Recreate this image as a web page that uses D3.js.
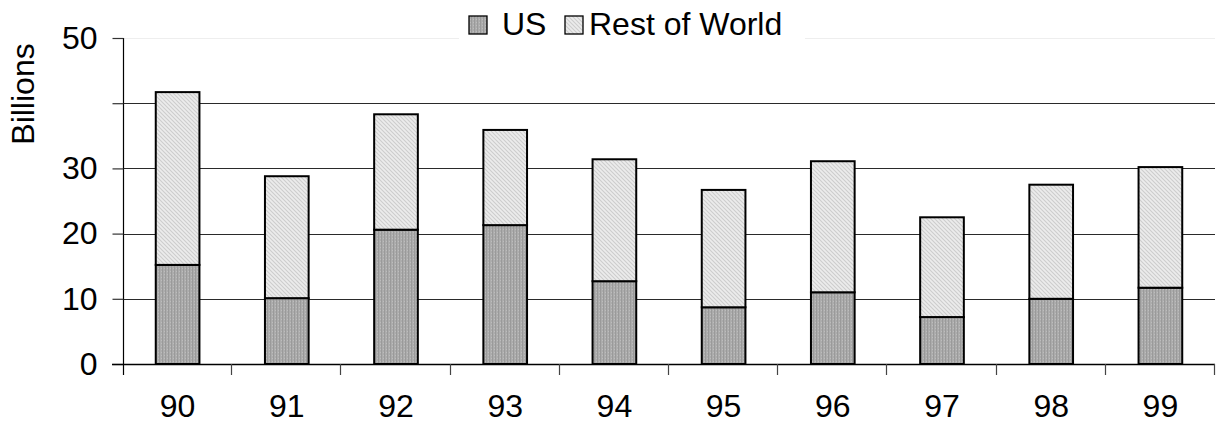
<!DOCTYPE html>
<html>
<head>
<meta charset="utf-8">
<script src="https://cdn.jsdelivr.net/npm/d3@7"></script>
<style>
  html, body { margin: 0; padding: 0; background: #fff; }
  svg { display: block; font-family: "Liberation Sans", Arial, sans-serif; }
</style>
</head>
<body>
<svg id="chart" width="1219" height="427"></svg>
<script>
// Yearly totals, in billions
const years = ["90", "91", "92", "93", "94", "95", "96", "97", "98", "99"];
const usValues = [15.2, 10.1, 20.6, 21.3, 12.7, 8.7, 11.0, 7.2, 10.0, 11.7];
const restValues = [26.5, 18.7, 17.7, 14.6, 18.7, 18.0, 20.1, 15.3, 17.5, 18.5];
const seriesNames = ["US", "Rest of World"];
const yTicks = [0, 10, 20, 30, 40, 50];
const yTickLabels = ["0", "10", "20", "30", "", "50"];

const svg = d3.select("#chart");
const margin = { left: 123, right: 4, top: 38, bottom: 63 };
const W = 1219, H = 427;
const FONT = 32;

const x = d3.scaleBand().domain(years).range([margin.left, W - margin.right]).paddingInner(0.6).paddingOuter(0.3);
const xEdges = d3.scaleLinear().domain([0, years.length]).range([margin.left, W - margin.right]);
const y = d3.scaleLinear().domain([0, 50]).range([H - margin.bottom, margin.top]);

// Fill patterns for the two series
const defs = svg.append("defs");
const pUS = defs.append("pattern").attr("id", "pat-us").attr("patternUnits", "userSpaceOnUse").attr("width", 3).attr("height", 3);
pUS.append("rect").attr("width", 3).attr("height", 3).attr("fill", "#acacac");
pUS.append("rect").attr("x", 0).attr("width", 1).attr("height", 3).attr("fill", "#9a9a9a");
pUS.append("rect").attr("x", 2).attr("y", 1).attr("width", 1).attr("height", 1).attr("fill", "#bdbdbd");

const pRow = defs.append("pattern").attr("id", "pat-row").attr("patternUnits", "userSpaceOnUse").attr("width", 4).attr("height", 4);
pRow.append("rect").attr("width", 4).attr("height", 4).attr("fill", "#ececec");
pRow.append("path").attr("d", "M0,0 L4,4 M-1,3 L1,5 M3,-1 L5,1").attr("stroke", "#cdcdcd").attr("stroke-width", 1.1);

// Horizontal gridlines
svg.append("g").selectAll("line").data(yTicks.filter(d => d > 0)).join("line")
  .attr("x1", margin.left).attr("x2", W - margin.right)
  .attr("y1", d => Math.round(y(d)) + 0.5).attr("y2", d => Math.round(y(d)) + 0.5)
  .attr("stroke", d => d === 50 ? "#eeeeee" : "#2a2a2a").attr("stroke-width", 1.2);

// Stacked bars
const stackData = years.map((yr, i) => ({ year: yr, US: usValues[i], "Rest of World": restValues[i] }));
const stacked = d3.stack().keys(seriesNames)(stackData);
const fills = { "US": "url(#pat-us)", "Rest of World": "url(#pat-row)" };

svg.append("g").selectAll("g").data(stacked).join("g")
  .attr("fill", d => fills[d.key])
  .selectAll("rect").data(d => d).join("rect")
  .attr("x", d => x(d.data.year))
  .attr("width", x.bandwidth())
  .attr("y", d => y(d[1]))
  .attr("height", d => y(d[0]) - y(d[1]))
  .attr("stroke", "#000").attr("stroke-width", 2);

// Y axis
const yAxis = svg.append("g").attr("transform", `translate(${margin.left + 0.5},0)`)
  .call(d3.axisLeft(y).tickValues(yTicks).tickFormat((d, i) => yTickLabels[i]).tickSize(11).tickPadding(15));
yAxis.select(".domain").attr("d", `M0,${y(50)}V${y(0) + 11}`).attr("stroke", "#000").attr("stroke-width", 1.2);
yAxis.selectAll(".tick line").attr("stroke", "#333").attr("stroke-width", 1.2);
yAxis.selectAll(".tick text").attr("font-size", FONT).attr("fill", "#000")
  .attr("font-family", "'Liberation Sans', Arial, sans-serif");

// X axis: baseline with ticks between categories
const xg = svg.append("g");
xg.append("line").attr("x1", margin.left - 11).attr("x2", W - margin.right)
  .attr("y1", y(0) + 0.5).attr("y2", y(0) + 0.5).attr("stroke", "#000").attr("stroke-width", 1.4);
xg.selectAll("line.tk").data(d3.range(1, years.length + 1)).join("line").attr("class", "tk")
  .attr("x1", d => Math.round(xEdges(d)) - 0.5).attr("x2", d => Math.round(xEdges(d)) - 0.5)
  .attr("y1", y(0)).attr("y2", y(0) + 11).attr("stroke", "#444").attr("stroke-width", 1.2);
xg.selectAll("text").data(years).join("text")
  .attr("x", d => x(d) + x.bandwidth() / 2).attr("y", 417)
  .attr("text-anchor", "middle").attr("font-size", FONT).text(d => d);

// Y axis title
svg.append("text").attr("transform", "translate(34,94) rotate(-90)")
  .attr("text-anchor", "middle").attr("font-size", FONT).text("Billions");

// Legend
const legend = svg.append("g");
legend.append("rect").attr("x", 459).attr("y", 2).attr("width", 346).attr("height", 38).attr("fill", "#fff");
const legendItems = [
  { name: seriesNames[0], fill: fills["US"], bx: 469, tx: 502 },
  { name: seriesNames[1], fill: fills["Rest of World"], bx: 565, tx: 589 }
];
const li = legend.selectAll("g").data(legendItems).join("g");
li.append("rect").attr("x", d => d.bx).attr("y", 16).attr("width", 18).attr("height", 18)
  .attr("fill", d => d.fill).attr("stroke", "#000").attr("stroke-width", 1.3);
li.append("text").attr("x", d => d.tx).attr("y", 35).attr("font-size", FONT).text(d => d.name);
</script>
</body>
</html>
